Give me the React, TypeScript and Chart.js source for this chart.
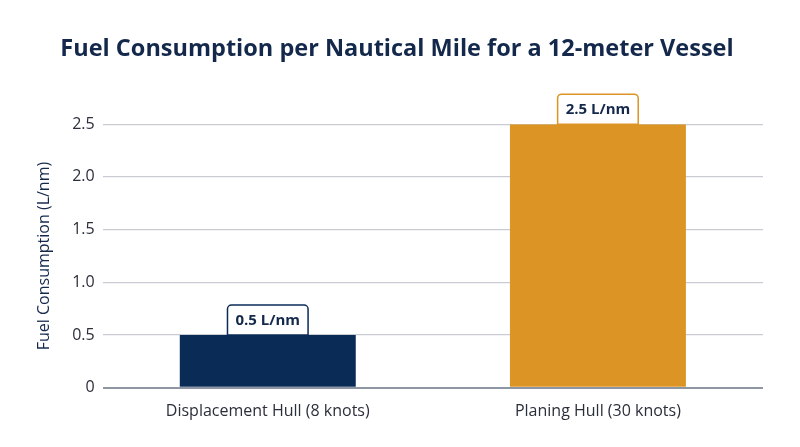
import { useEffect, useRef } from "react";
import { Chart, registerables } from "chart.js";

Chart.register(...registerables);

const categories = ["Displacement Hull (8 knots)", "Planing Hull (30 knots)"];
const fuelValues = [0.5, 2.5];
const valueLabels = ["0.5 L/nm", "2.5 L/nm"];
const barColors = ["#0b2b57", "#dc9524"];

const NAVY = "#14284b";
const FONT = "'Open Sans', 'DejaVu Sans', sans-serif";

// draws the small boxed value label sitting on top of each bar
const boxLabels = {
  id: "boxLabels",
  afterDatasetsDraw(chart: Chart) {
    const ctx = chart.ctx;
    const meta = chart.getDatasetMeta(0);
    ctx.save();
    ctx.font = `bold 15px ${FONT}`;
    meta.data.forEach((bar: any, i: number) => {
      const text = valueLabels[i];
      const w = ctx.measureText(text).width + 16;
      const h = 30;
      const x = bar.x - w / 2;
      const y = bar.y - h;
      const r = 4;
      ctx.beginPath();
      ctx.moveTo(x, y + h);
      ctx.lineTo(x, y + r);
      ctx.arcTo(x, y, x + r, y, r);
      ctx.lineTo(x + w - r, y);
      ctx.arcTo(x + w, y, x + w, y + r, r);
      ctx.lineTo(x + w, y + h);
      ctx.closePath();
      ctx.fillStyle = "#ffffff";
      ctx.fill();
      ctx.strokeStyle = barColors[i];
      ctx.lineWidth = 1.5;
      ctx.stroke();
      ctx.fillStyle = NAVY;
      ctx.textAlign = "center";
      ctx.textBaseline = "middle";
      ctx.fillText(text, bar.x, y + h / 2 + 1);
    });
    ctx.restore();
  },
};

export default function App() {
  const canvasRef = useRef<HTMLCanvasElement>(null);

  useEffect(() => {
    document.body.style.margin = "0";
    if (!canvasRef.current) return;
    const chart = new Chart(canvasRef.current, {
      type: "bar",
      data: {
        labels: categories,
        datasets: [
          {
            data: fuelValues,
            backgroundColor: barColors,
            barPercentage: 0.533,
            categoryPercentage: 1,
          },
        ],
      },
      options: {
        animation: false,
        responsive: true,
        maintainAspectRatio: false,
        layout: { padding: { left: 31, right: 37, top: 0, bottom: 20 } },
        plugins: {
          legend: { display: false },
          tooltip: { enabled: false },
          title: {
            display: true,
            text: "Fuel Consumption per Nautical Mile for a 12-meter Vessel",
            color: NAVY,
            font: { family: FONT, size: 23.5, weight: "bold" },
            padding: { top: 35, bottom: 61 },
          },
        },
        scales: {
          x: {
            grid: { display: false },
            border: { display: false },
            ticks: { color: "#2b2f3a", font: { family: FONT, size: 16 }, padding: 6 },
          },
          y: {
            min: 0,
            max: 2.5,
            ticks: {
              stepSize: 0.5,
              color: "#2b2f3a",
              font: { family: FONT, size: 16 },
              padding: 8,
              callback: (v: any) => (v === 0 ? "0" : Number(v).toFixed(1)),
            },
            grid: {
              drawTicks: false,
              color: (c: any) => (c.tick && c.tick.value === 0 ? "#8f96a3" : "#c9ccd2"),
              lineWidth: (c: any) => (c.tick && c.tick.value === 0 ? 2 : 1.2),
            },
            border: { display: false },
            title: {
              display: true,
              text: "Fuel Consumption (L/nm)",
              color: NAVY,
              font: { family: FONT, size: 16 },
              padding: { bottom: 10 },
            },
          },
        },
      },
      plugins: [boxLabels],
    });
    return () => chart.destroy();
  }, []);

  return (
    <div style={{ width: 800, height: 447, background: "#ffffff", position: "relative" }}>
      <canvas ref={canvasRef} />
    </div>
  );
}
